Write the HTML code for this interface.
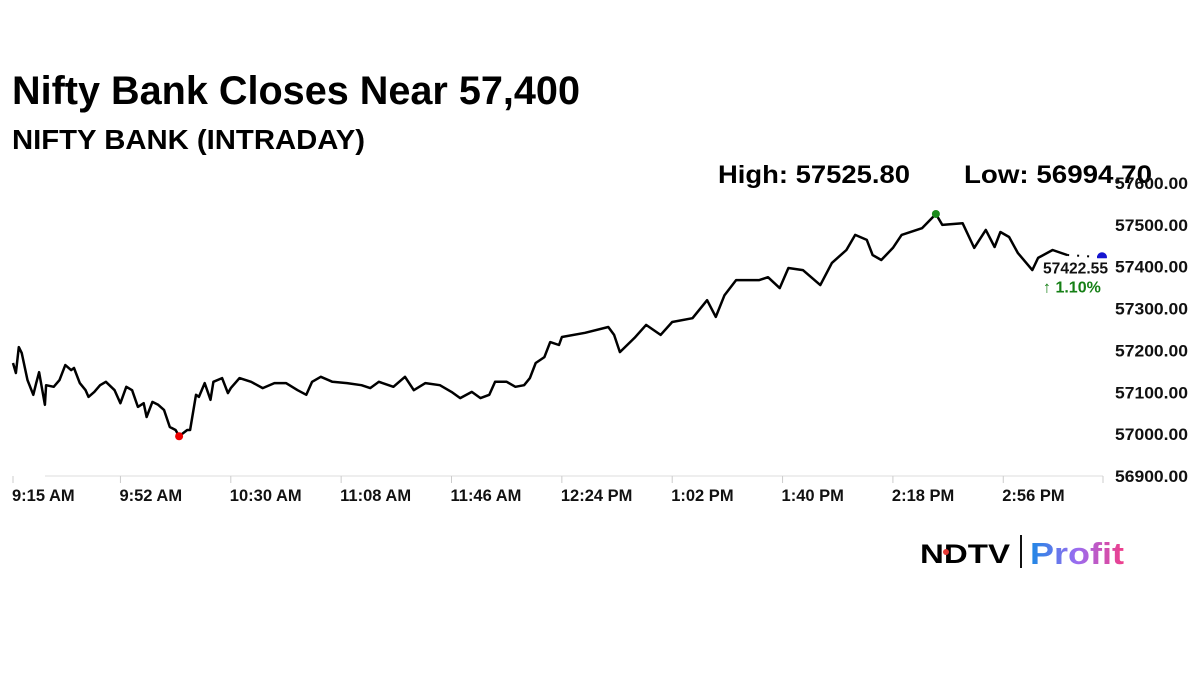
<!DOCTYPE html>
<html><head><meta charset="utf-8">
<style>
html,body{margin:0;padding:0;background:#fff;}
svg{display:block;font-family:"Liberation Sans",Arial,sans-serif;}
</style></head>
<body>
<svg id="chart" width="1200" height="675" viewBox="0 0 1200 675" xmlns="http://www.w3.org/2000/svg">
<text x="12" y="104" font-size="40" font-weight="bold" textLength="568" lengthAdjust="spacingAndGlyphs">Nifty Bank Closes Near 57,400</text>
<text x="12" y="149" font-size="28" font-weight="bold" textLength="353" lengthAdjust="spacingAndGlyphs">NIFTY BANK (INTRADAY)</text>
<text x="718" y="183" font-size="25" font-weight="bold" textLength="192" lengthAdjust="spacingAndGlyphs">High: 57525.80</text>
<text x="964" y="183" font-size="25" font-weight="bold" textLength="188" lengthAdjust="spacingAndGlyphs">Low: 56994.70</text>
<g id="yaxis"></g>
<g id="xaxis"></g>
<g id="series"></g>
<g>
<defs><linearGradient id="pg" x1="0" x2="1" y1="0" y2="0"><stop offset="0" stop-color="#1e88e5"/><stop offset="0.5" stop-color="#9b6cf0"/><stop offset="1" stop-color="#f03e8a"/></linearGradient></defs>
<text x="920" y="563" font-size="27" font-weight="900" textLength="90" lengthAdjust="spacingAndGlyphs">NDTV</text>
<circle cx="946" cy="552" r="3" fill="#e53935"/>
<rect x="1020" y="535" width="2" height="33" fill="#111"/>
<text x="1030" y="564" font-size="31" font-weight="bold" fill="url(#pg)" textLength="94" lengthAdjust="spacingAndGlyphs">Profit</text>
</g>
</svg>
<script>
const minutes = [0,1,2,3,5,7,8,9,11,11.4,14,16,18,20,21,23,25,26,28,30,32,35,37,39,41,43,45,46,48,50,52,54,56,57.2,60,61,63,64,66,68,69,72,74,75,78,82,86,90,94,98,101,103,106,110,115,120,123,126,131,135,138,142,147,151,154,158,161,164,166,170,173,176,178,180,183,185,188,189,197,205,207,209,214,218,223,227,234,239,242,245,249,257,260,264,267,272,278,282,287,290,294,296,299,303,306,313,317.8,320,327,331,335,338,340,343,346,351,353,358,363];
const values = [57170,57146,57208,57194,57129,57094,57122,57148,57070,57117,57113,57129,57165,57153,57158,57122,57105,57089,57101,57117,57125,57105,57074,57113,57105,57065,57074,57041,57077,57070,57058,57017,57010,56995,57010,57010,57094,57089,57122,57082,57125,57134,57098,57110,57134,57125,57110,57122,57122,57105,57094,57125,57137,57125,57122,57117,57110,57125,57113,57137,57105,57122,57117,57101,57086,57101,57086,57094,57125,57125,57113,57117,57134,57170,57184,57220,57213,57232,57242,57256,57237,57196,57230,57261,57237,57268,57277,57320,57280,57332,57368,57368,57375,57349,57397,57392,57356,57409,57440,57476,57464,57428,57416,57445,57476,57492,57526,57500,57504,57445,57488,57447,57483,57471,57433,57392,57421,57440,57428];
const lastValue = 57422.55;
const yTicks = [57600,57500,57400,57300,57200,57100,57000,56900];
const xTickLabels = ["9:15 AM","9:52 AM","10:30 AM","11:08 AM","11:46 AM","12:24 PM","1:02 PM","1:40 PM","2:18 PM","2:56 PM"];
const xTickMinutes = [0,37,75,113,151,189,227,265,303,341];

const NS="http://www.w3.org/2000/svg";
const X0=13, X1=1102, MTOT=375;
const xs=m=>X0+m*(X1-X0)/MTOT;
const ys=v=>183+(57600-v)*(476-183)/700;
function mk(tag,attrs,parent,txt){const e=document.createElementNS(NS,tag);for(const k in attrs)e.setAttribute(k,attrs[k]);if(txt!==undefined)e.textContent=txt;parent.appendChild(e);return e;}
const yg=document.getElementById('yaxis'), xg=document.getElementById('xaxis'), sg=document.getElementById('series');

yTicks.forEach(t=>{
  const el=mk('text',{x:1115,y:ys(t)+6,'font-size':17,'font-weight':'bold',fill:'#111',textLength:73,lengthAdjust:'spacingAndGlyphs'},yg,t.toFixed(2));
  
  
});
const base=mk('line',{x1:45,x2:1103,y1:476,y2:476,stroke:'#ddd','stroke-width':1},xg);


xTickLabels.forEach((l,i)=>{
  const x=xs(xTickMinutes[i]);
  const tk=mk('line',{x1:x,x2:x,y1:476,y2:483,stroke:'#ccc'},xg);
  
  
  const el=mk('text',{x:x-1,y:501,'font-size':16.5,'font-weight':'bold',fill:'#111'},xg,l);
  
  
});
const endTick=mk('line',{x1:1103,x2:1103,y1:476,y2:483,stroke:'#ccc'},xg);



let d='';
minutes.forEach((m,i)=>{d+=(i?'L':'M')+xs(m).toFixed(1)+','+ys(values[i]).toFixed(1);});
const line=mk('path',{d:d,fill:'none',stroke:'#000','stroke-width':2.5,'stroke-linejoin':'round'},sg);


const lm=minutes[minutes.length-1], lv=values[values.length-1];
const dot=mk('line',{x1:xs(lm),y1:ys(lv),x2:xs(MTOT),y2:ys(lastValue),stroke:'#000','stroke-width':2,'stroke-dasharray':'2 8'},sg);



let hi=0,lo=0;values.forEach((v,i)=>{if(v>values[hi])hi=i;if(v<values[lo])lo=i;});
const hd=mk('circle',{cx:xs(minutes[hi]),cy:ys(values[hi]),r:4,fill:'#1a8a1a'},sg);


const ld=mk('circle',{cx:xs(minutes[lo]),cy:ys(values[lo]),r:4,fill:'#e00'},sg);


const bd=mk('circle',{cx:xs(MTOT),cy:ys(lastValue),r:5,fill:'#1515d0'},sg);


const bx=mk('rect',{x:1040,y:ys(lastValue)+1,width:68,height:38,fill:'#fff'},sg);


const lt=mk('text',{x:1043,y:ys(lastValue)+16,'font-size':16,'font-weight':'bold',fill:'#111',textLength:65,lengthAdjust:'spacingAndGlyphs'},sg,lastValue.toFixed(2));


const ct=mk('text',{x:1043,y:ys(lastValue)+35,'font-size':16,'font-weight':'bold',fill:'#157f15'},sg,'\u2191 1.10%');


</script>
</body></html>
